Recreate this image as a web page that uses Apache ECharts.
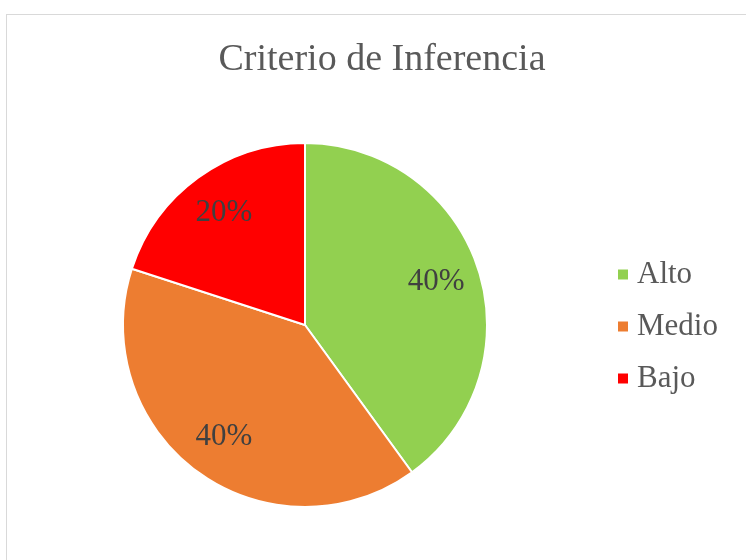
<!DOCTYPE html>
<html>
<head>
<meta charset="utf-8">
<script src="https://cdn.jsdelivr.net/npm/echarts@6/dist/echarts.min.js"></script>
<style>
  html, body { margin: 0; padding: 0; background: #fff; }
  #frame { position: absolute; left: 6px; top: 14px; width: 800px; height: 600px; border: 1px solid #d9d9d9; }
  #chart { position: absolute; left: 0; top: 0; width: 746px; height: 560px; }
</style>
</head>
<body>
<div id="frame"></div>
<div id="chart"></div>
<script>
const categories = ['Alto', 'Medio', 'Bajo'];
const values = [40, 40, 20];
const colors = ['#92D050', '#ED7D31', '#FF0000'];

const chart = echarts.init(document.getElementById('chart'));

const pieData = categories.map((name, i) => ({
  name: name,
  value: values[i],
  itemStyle: { color: colors[i] }
}));

const option = {
  animation: false,
  title: {
    text: 'Criterio de Inferencia',
    left: 377,
    top: 36,
    textAlign: 'center',
    textStyle: {
      fontFamily: 'Liberation Serif',
      fontWeight: 'normal',
      fontSize: 38,
      color: '#595959'
    }
  },
  legend: {
    orient: 'vertical',
    left: 611,
    top: 254,
    data: categories,
    icon: 'rect',
    itemWidth: 12,
    itemHeight: 12,
    itemGap: 21,
    textStyle: {
      fontFamily: 'Liberation Serif',
      fontSize: 31,
      color: '#595959',
      padding: [0, 0, 0, 3]
    }
  },
  series: [
    {
      type: 'pie',
      center: [305, 325],
      radius: [0, 182],
      startAngle: 90,
      clockwise: true,
      data: pieData,
      itemStyle: { borderColor: '#fff', borderWidth: 2 },
      label: { show: false },
      labelLine: { show: false },
      emphasis: { disabled: true }
    },
    {
      // transparent ring that only carries the percent labels
      type: 'pie',
      center: [305, 325],
      radius: [88, 182],
      startAngle: 90,
      clockwise: true,
      silent: true,
      legendHoverLink: false,
      data: categories.map((name, i) => ({ name: name, value: values[i] })),
      itemStyle: { color: 'rgba(0,0,0,0)' },
      label: {
        show: true,
        position: 'inside',
        formatter: '{d}%',
        fontFamily: 'Liberation Serif',
        fontSize: 31,
        color: '#404040'
      },
      labelLine: { show: false },
      emphasis: { disabled: true }
    }
  ]
};

chart.setOption(option);
</script>
</body>
</html>
